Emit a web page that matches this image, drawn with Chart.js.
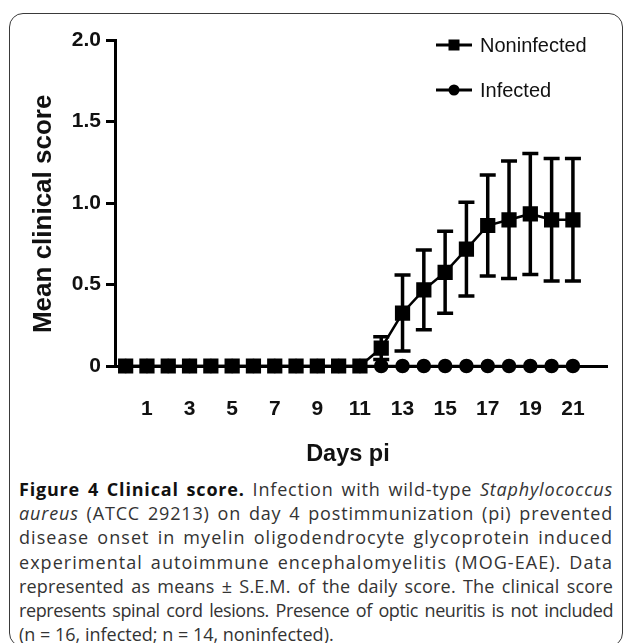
<!DOCTYPE html>
<html>
<head>
<meta charset="utf-8">
<script src="https://cdn.jsdelivr.net/npm/chart.js@4/dist/chart.umd.min.js"></script>
<style>
  html, body { margin: 0; padding: 0; background: #fff; }
  body { width: 629px; height: 643px; position: relative; overflow: hidden; }
  #frame { position: absolute; left: 9px; top: 13px; width: 614px; height: 634px;
           border: 1.5px solid #3a3a3a; border-radius: 14px; box-sizing: border-box; }
  #wrap { position: absolute; left: 0; top: 0; width: 629px; height: 470px; }
  #caption { position: absolute; left: 19px; top: 477px; width: 594px;
             font-family: 'Open Sans', sans-serif; font-size: 18px; line-height: 24.2px; color: #333; }
  #caption .ln { white-space: nowrap; text-align: justify; text-align-last: justify; }
  #caption .ln.last { text-align-last: left; }
  #caption b { color: #111; }
</style>
</head>
<body>
<div id="frame"></div>
<div id="wrap"><canvas id="c" width="629" height="470"></canvas></div>
<div id="caption">
  <div class="ln"><b>Figure 4 Clinical score.</b> Infection with wild-type <i>Staphylococcus</i></div>
  <div class="ln"><i>aureus</i> (ATCC 29213) on day 4 postimmunization (pi) prevented</div>
  <div class="ln">disease onset in myelin oligodendrocyte glycoprotein induced</div>
  <div class="ln">experimental autoimmune encephalomyelitis (MOG-EAE). Data</div>
  <div class="ln">represented as means ± S.E.M. of the daily score. The clinical score</div>
  <div class="ln">represents spinal cord lesions. Presence of optic neuritis is not included</div>
  <div class="ln last">(n = 16, infected; n = 14, noninfected).</div>
</div>
<script>
// ---- data ----
const days = [0,1,2,3,4,5,6,7,8,9,10,11,12,13,14,15,16,17,18,19,20,21];
const noninfectedMean = [0,0,0,0,0,0,0,0,0,0,0,0,0.11,0.325,0.467,0.575,0.717,0.862,0.897,0.933,0.897,0.897];
const noninfectedSEM  = [0,0,0,0,0,0,0,0,0,0,0,0,0.07,0.233,0.245,0.252,0.288,0.31,0.36,0.371,0.376,0.376];
const infectedMean    = [0,0,0,0,0,0,0,0,0,0,0,0,0,0,0,0,0,0,0,0,0,0];
const xTickLabels = [1,3,5,7,9,11,13,15,17,19,21];
const yTickValues = [0,0.5,1.0,1.5,2.0];
const seriesNames = ['Noninfected','Infected'];

// caption: spread justified lines with letter spacing (as typeset in the original)
document.querySelectorAll('#caption .ln:not(.last)').forEach(el => {
  el.style.textAlignLast = 'left';
  el.style.letterSpacing = '0px';
  const r = document.createRange();
  r.selectNodeContents(el);
  const w = r.getBoundingClientRect().width;
  const text = el.textContent;
  const n = text.length;
  const gaps = (text.match(/ /g) || []).length;
  const target = 594 - gaps * 18 * 0.26 * 0.5;
  el.style.letterSpacing = ((target - w) / n).toFixed(3) + 'px';
  el.style.textAlignLast = 'justify';
});

const toXY = (arr) => days.map((d,i) => ({x:d, y:arr[i]}));

const errorBars = {
  id: 'errorBars',
  afterDatasetsDraw(chart) {
    const {ctx, scales:{x, y}} = chart;
    ctx.save();
    ctx.strokeStyle = '#000';
    ctx.lineWidth = 3.5;
    ctx.lineCap = 'butt';
    days.forEach((d,i) => {
      const s = noninfectedSEM[i];
      if (!s) return;
      const m = noninfectedMean[i];
      const px = x.getPixelForValue(d);
      const top = y.getPixelForValue(m + s);
      const bot = y.getPixelForValue(m - s);
      ctx.beginPath();
      ctx.moveTo(px, top); ctx.lineTo(px, bot);
      ctx.moveTo(px - 8, top); ctx.lineTo(px + 8, top);
      ctx.moveTo(px - 8, bot); ctx.lineTo(px + 8, bot);
      ctx.stroke();
    });
    ctx.restore();
  }
};

const legendPlugin = {
  id: 'customLegend',
  afterDraw(chart) {
    const {ctx} = chart;
    ctx.save();
    chart.data.datasets.forEach((ds, i) => {
      const yy = 45 + i * 45;
      ctx.strokeStyle = '#000';
      ctx.lineWidth = 3;
      ctx.beginPath(); ctx.moveTo(436, yy); ctx.lineTo(472, yy); ctx.stroke();
      ctx.fillStyle = '#000';
      if (ds.pointStyle === 'rect') {
        ctx.fillRect(454 - 5.5, yy - 5.5, 11, 11);
      } else {
        ctx.beginPath(); ctx.arc(454, yy, 5.5, 0, Math.PI*2); ctx.fill();
      }
      ctx.font = '20px "Liberation Sans", Arial, sans-serif';
      ctx.textBaseline = 'middle';
      ctx.fillStyle = '#111';
      ctx.fillText(ds.label, 480, yy + 1);
    });
    ctx.restore();
  }
};

new Chart(document.getElementById('c'), {
  type: 'line',
  data: {
    datasets: [
      { label: seriesNames[0], data: toXY(noninfectedMean), borderColor: '#000', backgroundColor: '#000',
        borderWidth: 2.5, pointStyle: 'rect', pointRadius: 9, pointHoverRadius: 9, clip: false, tension: 0 },
      { label: seriesNames[1], data: toXY(infectedMean), borderColor: '#000', backgroundColor: '#000',
        borderWidth: 2.5, pointStyle: 'circle', pointRadius: 6, pointHoverRadius: 6, clip: false, tension: 0 }
    ]
  },
  options: {
    responsive: false,
    animation: false,
    events: [],
    layout: { padding: { left: 0, right: 22, top: 40, bottom: 0 } },
    plugins: { legend: { display: false }, tooltip: { enabled: false } },
    scales: {
      x: {
        type: 'linear', min: -0.5, max: 22.6,
        afterBuildTicks: (s) => { s.ticks = xTickLabels.map(v => ({value: v})); },
        afterFit: (s) => { s.height = 104; },
        grid: { display: true, drawOnChartArea: false, drawTicks: false, color: 'rgba(0,0,0,0)' },
        border: { display: true, color: '#000', width: 3 },
        ticks: { color: '#111', padding: 31, maxRotation: 0, autoSkip: false,
                 font: { family: '"Liberation Sans", Arial, sans-serif', size: 21, weight: 'bold' } },
        title: { display: true, text: 'Days pi    ', color: '#111', padding: { top: 0, bottom: 1 },
                 font: { family: '"Liberation Sans", Arial, sans-serif', size: 23.5, weight: 'bold' } }
      },
      y: {
        type: 'linear', min: 0, max: 2,
        afterBuildTicks: (s) => { s.ticks = yTickValues.map(v => ({value: v})); },
        afterFit: (s) => { s.width = 115; },
        grid: { drawOnChartArea: false, drawTicks: true, tickLength: 9, color: '#000', lineWidth: 3 },
        border: { display: true, color: '#000', width: 3 },
        ticks: { color: '#111', padding: 5,
                 callback: (v) => v === 0 ? '0' : v.toFixed(1),
                 font: { family: '"Liberation Sans", Arial, sans-serif', size: 21, weight: 'bold' } },
        title: { display: true, text: 'Mean clinical score   ', color: '#111', padding: { top: 28, bottom: 0 },
                 font: { family: '"Liberation Sans", Arial, sans-serif', size: 26, weight: 'bold' } }
      }
    }
  },
  plugins: [errorBars, legendPlugin]
});
</script>
</body>
</html>
